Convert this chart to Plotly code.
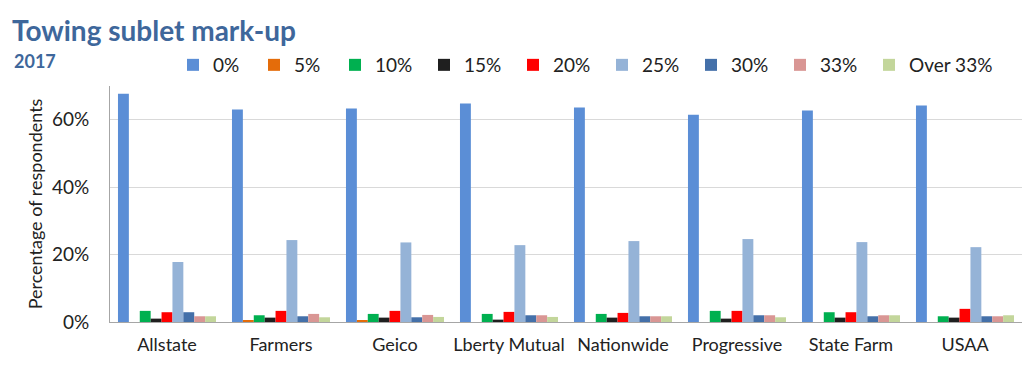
import plotly.graph_objects as go

categories = ["Allstate", "Farmers", "Geico", "Lberty Mutual", "Nationwide",
              "Progressive", "State Farm", "USAA"]

series_names = ["0%", "5%", "10%", "15%", "20%", "25%", "30%", "33%", "Over 33%"]

pct_0 = [0.677, 0.630, 0.633, 0.648, 0.636, 0.615, 0.627, 0.642]
pct_5 = [0.000, 0.003, 0.003, 0.000, 0.000, 0.000, 0.000, 0.000]
pct_10 = [0.033, 0.020, 0.024, 0.024, 0.024, 0.033, 0.029, 0.017]
pct_15 = [0.010, 0.013, 0.013, 0.007, 0.013, 0.010, 0.013, 0.013]
pct_20 = [0.029, 0.033, 0.033, 0.030, 0.027, 0.033, 0.029, 0.039]
pct_25 = [0.178, 0.243, 0.236, 0.228, 0.240, 0.246, 0.237, 0.222]
pct_30 = [0.029, 0.017, 0.014, 0.020, 0.017, 0.020, 0.017, 0.017]
pct_33 = [0.017, 0.024, 0.021, 0.020, 0.017, 0.020, 0.020, 0.017]
pct_over33 = [0.017, 0.014, 0.015, 0.015, 0.017, 0.014, 0.020, 0.020]

series_values = [pct_0, pct_5, pct_10, pct_15, pct_20, pct_25, pct_30, pct_33, pct_over33]
colors = ["#5B8ED6", "#E46C0A", "#00B050", "#1F1F1F", "#FF0000",
          "#95B3D7", "#4470A9", "#D99694", "#C3D69B"]
legend_widths = [36, 36, 44, 44, 44, 44, 44, 44, 80]

y_tickvals = [0, 0.2, 0.4, 0.6]
y_ticktext = ["0%", "20%", "40%", "60%"]

title_text = "Towing sublet mark-up"
subtitle_text = "2017"
y_title = "Percentage of respondents"

FONT = "Lato, Carlito, Calibri, sans-serif"
TITLE_COLOR = "#3E679B"

fig = go.Figure()
for name, vals, col, lw in zip(series_names, series_values, colors, legend_widths):
    fig.add_trace(go.Bar(
        name=name, x=categories, y=vals,
        marker=dict(color=col, line=dict(width=0)),
        legendwidth=lw,
    ))

fig.update_layout(
    width=1024, height=377,
    margin=dict(l=110, r=2, t=86, b=55),
    paper_bgcolor="white", plot_bgcolor="white",
    barmode="group", bargap=0.14, bargroupgap=0,
    font=dict(family=FONT, color="#222222"),
    showlegend=True,
    legend=dict(
        orientation="h", xref="container", yref="container",
        x=173/1024, xanchor="left", y=1 - 65/377, yanchor="middle",
        font=dict(family=FONT, size=19, color="#222222"),
        bgcolor="rgba(0,0,0,0)", traceorder="normal",
        itemclick=False, itemdoubleclick=False,
    ),
    xaxis=dict(
        showgrid=False, showline=True, linecolor="#A6A6A6", linewidth=1,
        ticks="", tickfont=dict(family=FONT, size=18, color="#222222"),
        ticklabelstandoff=6, zeroline=False,
    ),
    yaxis=dict(
        range=[0, 0.7], tickvals=y_tickvals, ticktext=y_ticktext,
        showgrid=True, gridcolor="#D9D9D9", gridwidth=1,
        showline=True, linecolor="#A6A6A6", linewidth=1,
        zeroline=False, ticks="outside", ticklen=16, tickcolor="rgba(0,0,0,0)",
        tickfont=dict(family=FONT, size=19, color="#222222"),
        title=dict(text=y_title, font=dict(family=FONT, size=18, color="#222222"),
                   standoff=4),
    ),
    annotations=[
        dict(text="<b>" + title_text + "</b>", xref="paper", yref="paper",
             x=(10 - 110) / 912, y=1 + (86 - 30) / 236, xanchor="left", yanchor="middle",
             showarrow=False, font=dict(family=FONT, size=28, color=TITLE_COLOR)),
        dict(text="<b>" + subtitle_text + "</b>", xref="paper", yref="paper",
             x=(12 - 110) / 912, y=1 + (86 - 61) / 236, xanchor="left", yanchor="middle",
             showarrow=False, font=dict(family=FONT, size=18, color=TITLE_COLOR)),
    ],
)

fig.write_html("out.html", config={"displayModeBar": False},
               post_script="document.body.style.margin='0';document.body.style.overflow='hidden';")
